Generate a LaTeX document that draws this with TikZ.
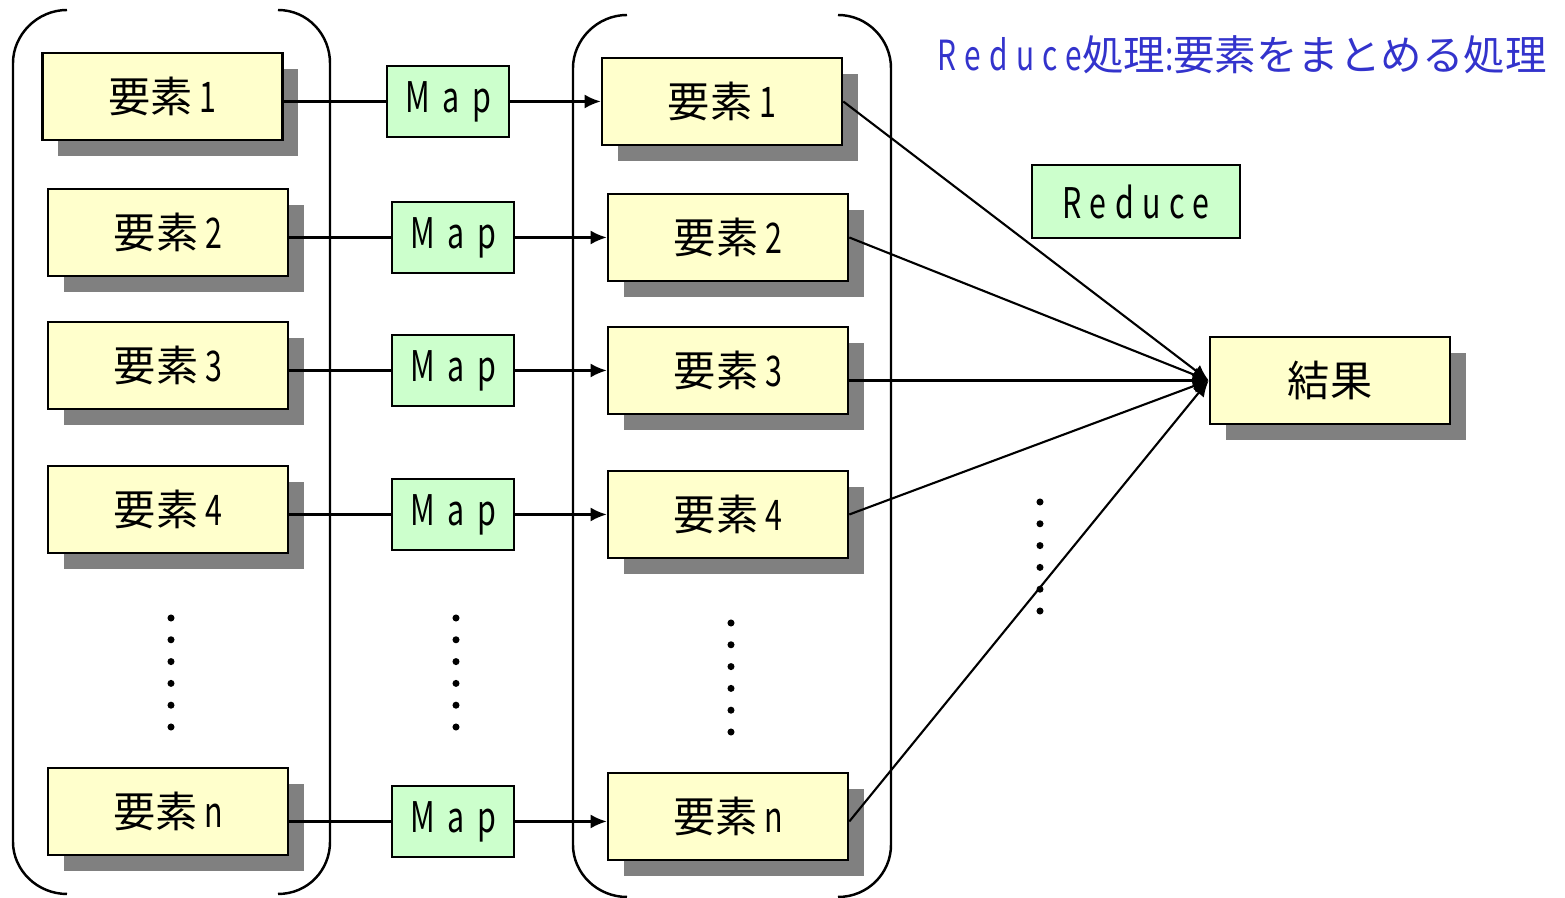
\documentclass[tikz,border=0pt]{standalone}
\usepackage{fontspec}
\setmainfont{Noto Sans CJK JP}
\newfontfamily\narrowfont[FakeStretch=0.72,LetterSpace=30]{Noto Sans CJK JP}
\newfontfamily\tightfont[FakeStretch=0.72,LetterSpace=20]{Noto Sans CJK JP}
\usetikzlibrary{arrows,arrows.meta,positioning,shadows}
\definecolor{boxyellow}{RGB}{255,255,204}
\definecolor{boxgreen}{RGB}{204,255,204}
\definecolor{shadowgray}{RGB}{128,128,128}
\definecolor{titleblue}{RGB}{51,51,204}

\begin{document}
\begin{tikzpicture}[x=0.01cm, y=-0.01cm, font=\fontsize{12}{14}\selectfont,
  elem/.style={draw=black, line width=0.7pt, fill=boxyellow, minimum width=2.4cm, minimum height=0.87cm, inner sep=0pt,
    general shadow={fill=shadowgray, shadow xshift=4.5pt, shadow yshift=-4.5pt}},
  mapbox/.style={draw=black, line width=0.7pt, fill=boxgreen, minimum width=1.22cm, minimum height=0.71cm, inner sep=0pt},
  link/.style={line width=0.6pt},
  flow/.style={line width=0.6pt, -{Latex[length=4.6pt,width=4pt]}},
  group/.style={line width=0.7pt},
  dotcol/.style={line width=2pt, line cap=round, dash pattern=on 0pt off 6.2pt}]
 \useasboundingbox (0,0) rectangle (1565,898);

 % brackets
 \draw[group] (67,10) .. controls (37,10) and (13,35) .. (13,63) -- (13,842) .. controls (13,870) and (37,894) .. (67,894);
 \draw[group] (278,10) .. controls (308,10) and (330,35) .. (330,63) -- (330,842) .. controls (330,870) and (308,894) .. (278,894);
 \draw[group] (627,15) .. controls (597,15) and (573,40) .. (573,68) -- (573,845) .. controls (573,873) and (597,897) .. (627,897);
 \draw[group] (838,15) .. controls (868,15) and (891,40) .. (891,68) -- (891,845) .. controls (891,873) and (868,897) .. (838,897);

 % input elements
 \node[elem] (e1) at (162.5,96.5) {要素\,{\narrowfont 1}};
 \node[elem] (e2) at (168,232.5) {要素\,{\narrowfont 2}};
 \node[elem] (e3) at (168,365.5) {要素\,{\narrowfont 3}};
 \node[elem] (e4) at (168,509.5) {要素\,{\narrowfont 4}};
 \node[elem] (en) at (168,811.5) {要素\,{\narrowfont n}};

 % map
 \node[mapbox] (m1) at (448,101.5) {\narrowfont Map};
 \node[mapbox] (m2) at (453,237.5) {\narrowfont Map};
 \node[mapbox] (m3) at (453,370.5) {\narrowfont Map};
 \node[mapbox] (m4) at (453,514.5) {\narrowfont Map};
 \node[mapbox] (mn) at (453,821.5) {\narrowfont Map};

 % mapped elements
 \node[elem] (f1) at (722,101.5) {要素\,{\narrowfont 1}};
 \node[elem] (f2) at (728,237.5) {要素\,{\narrowfont 2}};
 \node[elem] (f3) at (728,370.5) {要素\,{\narrowfont 3}};
 \node[elem] (f4) at (728,514.5) {要素\,{\narrowfont 4}};
 \node[elem] (fn) at (728,816.5) {要素\,{\narrowfont n}};

 % reduce
 \node[mapbox, minimum width=2.08cm, minimum height=0.73cm] (red) at (1136,201.5) {\tightfont Reduce};
 \node[elem] (res) at (1330,380.5) {結果};
 \node[text=titleblue, anchor=west, inner sep=0pt, font=\fontsize{11.8}{13}\selectfont] (title) at (937,55)
   {{\tightfont Reduce}処理{\tightfont :}要素をまとめる処理};

 \draw[link] (e1.east |- m1.west) -- (m1.west);
 \draw[link] (e2.east |- m2.west) -- (m2.west);
 \draw[link] (e3.east |- m3.west) -- (m3.west);
 \draw[link] (e4.east |- m4.west) -- (m4.west);
 \draw[link] (en.east |- mn.west) -- (mn.west);

 \draw[flow] (m1.east) -- (f1.west |- m1.east);
 \draw[flow] (m2.east) -- (f2.west |- m2.east);
 \draw[flow] (m3.east) -- (f3.west |- m3.east);
 \draw[flow] (m4.east) -- (f4.west |- m4.east);
 \draw[flow] (mn.east) -- (fn.west |- mn.east);

 \draw[flow] (f1.east) -- (res.west);
 \draw[flow] (f2.east) -- (res.west);
 \draw[flow] (f3.east |- res.west) -- (res.west);
 \draw[flow] (f4.east) -- (res.west);
 \draw[flow] (fn.east |- mn.east) -- (res.west);

 % continuation dots
 \draw[dotcol] (171,618) -- (171,729);
 \draw[dotcol] (456,618) -- (456,729);
 \draw[dotcol] (731,623) -- (731,734);
 \draw[dotcol] (1040,502) -- (1040,613);
\end{tikzpicture}
\end{document}
